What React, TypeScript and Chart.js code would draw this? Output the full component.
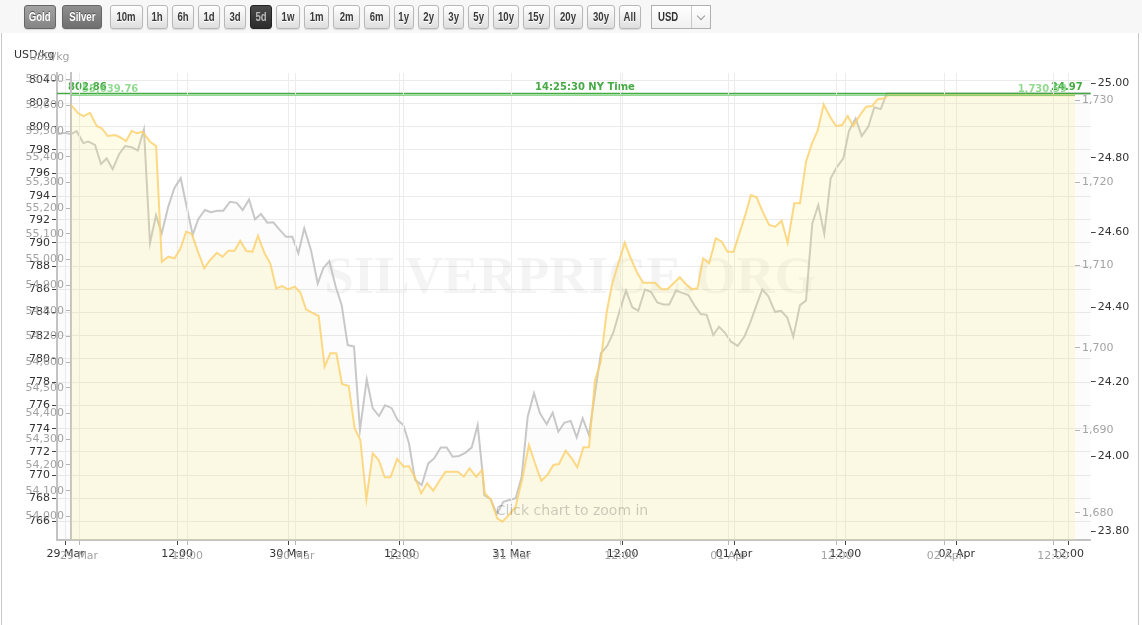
import React, { useEffect, useRef } from 'react';
import { Chart, registerables } from 'chart.js';

Chart.register(...registerables);

// ---------- data ----------
const OZ_PER_KG = 32.1507;

// gold, USD/oz, hours since 29 Mar 00:00 (NY)
const goldHours = [-0.89, -0.08, 0.48, 1.22, 1.96, 2.52, 3.19, 4.0, 4.55, 5.22, 5.85, 6.41, 7.03, 7.88, 8.55, 9.18, 9.91, 10.58, 11.21, 11.88, 12.51, 13.18, 13.88, 14.54, 15.29, 15.91, 16.57, 17.24, 17.87, 18.54, 19.24, 19.84, 20.57, 21.2, 21.87, 22.5, 23.17, 23.9, 24.53, 25.17, 25.83, 26.57, 27.23, 27.86, 28.53, 29.16, 29.9, 30.56, 31.19, 31.86, 32.56, 33.23, 33.89, 34.53, 35.27, 36.0, 36.56, 37.22, 37.93, 38.6, 39.27, 39.96, 40.63, 41.3, 42.0, 42.66, 43.29, 44.04, 44.7, 44.99, 45.63, 46.37, 46.93, 47.66, 48.4, 49.15, 49.88, 50.55, 51.25, 51.92, 52.59, 53.21, 53.95, 54.62, 55.25, 55.92, 56.54, 57.21, 57.84, 58.5, 59.14, 59.8, 60.5, 61.17, 61.83, 62.53, 63.2, 63.87, 64.58, 65.24, 65.91, 66.61, 67.27, 67.94, 68.57, 69.19, 69.86, 70.6, 71.27, 71.9, 72.57, 73.27, 73.93, 74.49, 75.12, 75.79, 76.52, 77.19, 77.9, 78.56, 79.3, 79.93, 80.6, 81.26, 81.89, 82.56, 83.26, 83.93, 84.59, 85.22, 85.85, 86.51, 87.26, 87.92, 88.55, 89.29, 89.67, 110.42];
const goldPrices = [1729.4, 1728.39, 1728.06, 1728.46, 1726.85, 1726.58, 1725.64, 1725.76, 1725.49, 1725.04, 1726.28, 1725.97, 1726.16, 1724.95, 1724.43, 1710.42, 1711.03, 1710.84, 1711.93, 1714.06, 1713.78, 1711.64, 1709.63, 1710.63, 1711.51, 1711.03, 1711.76, 1711.76, 1712.97, 1711.72, 1711.64, 1713.57, 1711.44, 1710.23, 1707.2, 1707.48, 1707.08, 1707.4, 1706.72, 1704.66, 1704.25, 1703.85, 1697.71, 1699.34, 1699.34, 1695.62, 1695.38, 1690.26, 1688.84, 1681.66, 1687.23, 1686.42, 1684.32, 1684.32, 1686.54, 1685.61, 1685.69, 1684.4, 1682.39, 1683.6, 1682.7, 1683.91, 1685.0, 1685.0, 1685.0, 1684.4, 1685.41, 1684.4, 1685.21, 1682.39, 1681.66, 1679.36, 1678.95, 1679.76, 1680.76, 1684.2, 1688.23, 1686.02, 1683.91, 1684.6, 1685.81, 1685.93, 1687.54, 1686.62, 1685.53, 1687.96, 1687.96, 1696.1, 1698.32, 1704.37, 1707.88, 1710.23, 1712.73, 1710.84, 1709.21, 1707.88, 1707.88, 1707.88, 1707.08, 1707.08, 1707.81, 1708.54, 1707.73, 1707.08, 1707.2, 1710.84, 1710.23, 1713.26, 1712.85, 1711.64, 1711.64, 1714.06, 1716.28, 1718.5, 1718.22, 1716.48, 1714.87, 1714.66, 1715.39, 1712.73, 1717.5, 1717.5, 1722.53, 1724.76, 1726.28, 1729.48, 1727.98, 1726.85, 1726.97, 1728.06, 1726.85, 1728.06, 1729.19, 1729.27, 1730.09, 1730.21, 1730.59, 1730.59];

// silver, USD/oz
const silverHours = [-0.94, -0.08, 0.57, 1.18, 1.9, 2.43, 3.16, 3.8, 4.42, 5.06, 5.77, 6.39, 7.11, 7.76, 8.43, 9.08, 9.73, 10.34, 11.05, 11.7, 12.39, 13.03, 13.68, 14.28, 15.0, 15.65, 16.33, 16.98, 17.7, 18.42, 19.07, 19.75, 20.39, 21.04, 21.72, 22.36, 23.01, 23.73, 24.41, 25.06, 25.7, 26.42, 27.15, 27.75, 28.4, 29.09, 29.73, 30.38, 31.06, 31.7, 32.43, 33.07, 33.75, 34.4, 35.12, 35.76, 36.37, 36.98, 37.63, 38.35, 39.06, 39.71, 40.4, 41.04, 41.69, 42.37, 43.09, 43.74, 44.38, 44.88, 45.09, 45.78, 46.43, 47.14, 47.79, 48.48, 49.12, 49.77, 50.45, 51.09, 51.82, 52.46, 53.07, 53.71, 54.4, 55.05, 55.69, 56.37, 57.02, 57.66, 58.34, 58.99, 59.64, 60.36, 61.04, 61.68, 62.4, 63.05, 63.73, 64.38, 65.02, 65.75, 66.42, 67.07, 67.72, 68.4, 69.05, 69.76, 70.38, 71.02, 71.67, 72.39, 73.1, 73.71, 74.36, 75.04, 75.69, 76.41, 77.06, 77.73, 78.38, 79.1, 79.75, 80.43, 81.07, 81.72, 82.41, 83.06, 83.77, 84.38, 85.1, 85.75, 86.46, 87.11, 87.8, 88.44, 110.42];
const silverPrices = [24.863, 24.867, 24.863, 24.871, 24.839, 24.843, 24.834, 24.783, 24.798, 24.769, 24.81, 24.831, 24.828, 24.819, 24.876, 24.571, 24.646, 24.597, 24.669, 24.718, 24.745, 24.669, 24.593, 24.635, 24.66, 24.654, 24.658, 24.658, 24.682, 24.679, 24.66, 24.688, 24.635, 24.649, 24.626, 24.627, 24.608, 24.588, 24.588, 24.544, 24.611, 24.553, 24.463, 24.504, 24.523, 24.454, 24.405, 24.298, 24.294, 24.071, 24.206, 24.129, 24.108, 24.137, 24.129, 24.097, 24.084, 24.035, 23.937, 23.923, 23.981, 23.995, 24.024, 24.024, 23.999, 24.001, 24.01, 24.024, 24.084, 23.963, 23.896, 23.885, 23.845, 23.878, 23.883, 23.888, 23.945, 24.106, 24.169, 24.115, 24.086, 24.117, 24.066, 24.09, 24.095, 24.051, 24.102, 24.057, 24.169, 24.276, 24.296, 24.331, 24.387, 24.444, 24.399, 24.39, 24.447, 24.441, 24.412, 24.407, 24.407, 24.444, 24.438, 24.432, 24.405, 24.381, 24.379, 24.325, 24.347, 24.331, 24.307, 24.296, 24.32, 24.356, 24.401, 24.447, 24.429, 24.387, 24.39, 24.372, 24.32, 24.405, 24.417, 24.624, 24.673, 24.596, 24.745, 24.774, 24.798, 24.872, 24.905, 24.858, 24.883, 24.935, 24.93, 24.972, 24.972];

const xTickHours = [0, 12, 24, 36, 48, 60, 72, 84, 96, 108];
const xTickLabels = ['29 Mar', '12:00', '30 Mar', '12:00', '31 Mar', '12:00', '01 Apr', '12:00', '02 Apr', '12:00'];

const silverKgTicks = [766, 768, 770, 772, 774, 776, 778, 780, 782, 784, 786, 788, 790, 792, 794, 796, 798, 800, 802, 804];
const silverOzTicks = [23.8, 24.0, 24.2, 24.4, 24.6, 24.8, 25.0];
const goldKgTicks = [54000, 54100, 54200, 54300, 54400, 54500, 54600, 54700, 54800, 54900, 55000, 55100, 55200, 55300, 55400, 55500, 55600, 55700];
const goldOzTicks = [1680, 1690, 1700, 1710, 1720, 1730];

const silverNowOz = 24.972;
const silverNowKgLabel = '802.86';
const silverNowOzLabel = '24.97';
const goldNowOz = 1730.59;
const goldNowKgLabel = '55,639.76';
const goldNowOzLabel = '1,730.59';
const nyTimeLabel = '14:25:30 NY Time';
const unitTitle = 'USD/kg';

const metalButtons = ['Gold', 'Silver'];
const rangeButtons = ['10m', '1h', '6h', '1d', '3d', '5d', '1w', '1m', '2m', '6m', '1y', '2y', '3y', '5y', '10y', '15y', '20y', '30y', 'All'];
const selectedRange = '5d';
const currency = 'USD';

// layout only: button box widths (px)
const metalButtonWidths = [32, 40];
const rangeButtonWidths = [33, 21, 22, 22, 22, 22, 24, 25, 27, 26, 20, 21, 21, 21, 26, 27, 29, 28, 22];

// ---------- chart ----------
const W = 1142;
const H = 625;

type Cfg = {
  id: string;
  hours: number[];
  prices: number[];
  lineColor: string;
  fillColor: string;
  textColor: string;
  tickColor: string;
  leftW: number;
  rightEdge: number;
  xMin: number;
  xMax: number;
  ozMin: number;
  ozMax: number;
  kgTicks: number[];
  ozTicks: number[];
  kgFmt: (v: number) => string;
  ozFmt: (v: number) => string;
  hGrid: boolean;
  xLabelPad: number;
  nowOz: number;
  nowKgLabel: string;
  nowOzLabel: string;
  nowColor: string;
  titlePos: [number, number];
  watermark: boolean;
  timeLabel: boolean;
  clickText: boolean;
};

function makeChart(canvas: HTMLCanvasElement, c: Cfg) {
  const font = { family: '"DejaVu Sans", sans-serif', size: 11 };
  const overlay = {
    id: 'overlay_' + c.id,
    beforeDatasetsDraw(chart: any) {
      if (!c.watermark) return;
      const ctx = chart.ctx;
      ctx.save();
      ctx.font = 'bold 53px "Liberation Serif", serif';
      ctx.fillStyle = 'rgba(0,0,0,0.045)';
      ctx.textAlign = 'center';
      ctx.textBaseline = 'alphabetic';
      ctx.fillText('SILVERPRICE.ORG', 570, 293);
      ctx.restore();
    },
    afterDatasetsDraw(chart: any) {
      const ctx = chart.ctx;
      const a = chart.chartArea;
      const y = chart.scales.yR.getPixelForValue(c.nowOz);
      ctx.save();
      ctx.strokeStyle = c.nowColor;
      ctx.lineWidth = 1.5;
      ctx.beginPath();
      ctx.moveTo(a.left, y);
      ctx.lineTo(a.right, y);
      ctx.stroke();
      ctx.fillStyle = c.nowColor;
      ctx.font = 'bold 10px "DejaVu Sans", sans-serif';
      ctx.textBaseline = 'alphabetic';
      ctx.textAlign = 'left';
      ctx.fillText(c.nowKgLabel, a.left + 11, y - 3);
      ctx.textAlign = 'right';
      ctx.fillText(c.nowOzLabel, a.right - 8, y - 3);
      if (c.timeLabel) {
        ctx.textAlign = 'center';
        ctx.fillText(nyTimeLabel, 585, y - 3);
      }
      ctx.restore();
    },
    afterDraw(chart: any) {
      const ctx = chart.ctx;
      ctx.save();
      ctx.font = '11px "DejaVu Sans", sans-serif';
      ctx.fillStyle = c.textColor;
      ctx.textAlign = 'left';
      ctx.textBaseline = 'alphabetic';
      ctx.fillText(unitTitle, c.titlePos[0], c.titlePos[1]);
      if (c.clickText) {
        ctx.font = '14px "DejaVu Sans", sans-serif';
        ctx.fillStyle = 'rgba(0,0,0,0.2)';
        ctx.textAlign = 'center';
        ctx.fillText('Click chart to zoom in', 572, 515);
      }
      ctx.restore();
    },
  };

  return new Chart(canvas, {
    type: 'line',
    data: {
      datasets: [
        {
          data: c.hours.map((h, i) => ({ x: h, y: c.prices[i] })),
          xAxisID: 'x',
          yAxisID: 'yR',
          borderColor: c.lineColor,
          backgroundColor: c.fillColor,
          borderWidth: 2,
          pointRadius: 0,
          tension: 0,
          fill: 'start',
        },
      ],
    },
    options: {
      animation: false,
      responsive: false,
      maintainAspectRatio: false,
      devicePixelRatio: 1,
      events: [],
      layout: { padding: { top: 73, left: 0, right: 0, bottom: 0 } },
      plugins: { legend: { display: false }, tooltip: { enabled: false } },
      scales: {
        x: {
          type: 'linear',
          position: 'bottom',
          min: c.xMin,
          max: c.xMax,
          afterBuildTicks: (s: any) => {
            s.ticks = xTickHours.map((v) => ({ value: v }));
          },
          afterFit: (s: any) => {
            s.height = H - 540;
          },
          ticks: {
            autoSkip: false,
            maxRotation: 0,
            color: c.textColor,
            font,
            padding: c.xLabelPad,
            callback: (v: any) => xTickLabels[xTickHours.indexOf(Number(v))] ?? '',
          },
          grid: { color: '#ececec', tickColor: c.tickColor, tickLength: 5, drawOnChartArea: true },
          border: { color: '#c4c4c4', width: 2 },
        },
        yL: {
          type: 'linear',
          position: 'left',
          min: c.ozMin * OZ_PER_KG,
          max: c.ozMax * OZ_PER_KG,
          afterBuildTicks: (s: any) => {
            s.ticks = c.kgTicks.map((v) => ({ value: v }));
          },
          afterFit: (s: any) => {
            s.width = c.leftW;
          },
          ticks: { color: c.textColor, font, padding: 2, callback: (v: any) => c.kgFmt(Number(v)) },
          grid: { color: '#ebebeb', drawOnChartArea: c.hGrid, tickColor: c.tickColor, tickLength: 5 },
          border: { color: '#c4c4c4', width: 2 },
        },
        yR: {
          type: 'linear',
          position: 'right',
          min: c.ozMin,
          max: c.ozMax,
          afterBuildTicks: (s: any) => {
            s.ticks = c.ozTicks.map((v) => ({ value: v }));
          },
          afterFit: (s: any) => {
            s.width = W - c.rightEdge;
          },
          ticks: { color: c.textColor, font, padding: 2, callback: (v: any) => c.ozFmt(Number(v)) },
          grid: { drawOnChartArea: false, tickColor: c.tickColor, tickLength: 5 },
          border: { display: false },
        },
      },
    } as any,
    plugins: [overlay],
  });
}

const fmtComma = (v: number) => v.toLocaleString('en-US');

const silverCfg: Cfg = {
  id: 'silver',
  hours: silverHours,
  prices: silverPrices,
  lineColor: 'rgba(190,190,190,0.85)',
  fillColor: 'rgba(0,0,0,0.012)',
  textColor: '#333333',
  tickColor: '#444444',
  leftW: 57,
  rightEdge: 1090.7,
  xMin: -0.937,
  xMax: 110.42,
  ozMin: 23.7759,
  ozMax: 25.0268,
  kgTicks: silverKgTicks,
  ozTicks: silverOzTicks,
  kgFmt: (v) => String(v),
  ozFmt: (v) => v.toFixed(2),
  hGrid: true,
  xLabelPad: 3,
  nowOz: silverNowOz,
  nowKgLabel: silverNowKgLabel,
  nowOzLabel: silverNowOzLabel,
  nowColor: 'rgba(60,165,60,0.95)',
  titlePos: [14, 58],
  watermark: true,
  timeLabel: true,
  clickText: false,
};

const goldCfg: Cfg = {
  id: 'gold',
  hours: goldHours,
  prices: goldPrices,
  lineColor: 'rgba(252,208,105,0.8)',
  fillColor: 'rgba(250,232,110,0.17)',
  textColor: '#a3a3a3',
  tickColor: '#b5b5b5',
  leftW: 71,
  rightEdge: 1075,
  xMin: -0.888,
  xMax: 110.42,
  ozMin: 1676.73,
  ozMax: 1733.27,
  kgTicks: goldKgTicks,
  ozTicks: goldOzTicks,
  kgFmt: fmtComma,
  ozFmt: fmtComma,
  hGrid: false,
  xLabelPad: 5,
  nowOz: goldNowOz,
  nowKgLabel: goldNowKgLabel,
  nowOzLabel: goldNowOzLabel,
  nowColor: 'rgba(110,205,110,0.75)',
  titlePos: [29, 60],
  watermark: false,
  timeLabel: false,
  clickText: true,
};

// ---------- toolbar ----------
const btnBase: React.CSSProperties = {
  height: 24,
  boxSizing: 'border-box',
  padding: 0,
  border: '1px solid #b8b8b8',
  borderRadius: 3,
  background: 'linear-gradient(#ffffff, #dedede)',
  color: '#3a3a3a',
  font: 'bold 12px "Liberation Sans", sans-serif',
  display: 'flex',
  alignItems: 'center',
  justifyContent: 'center',
  textShadow: '0 1px 0 #fff',
  boxShadow: '0 1px 1px rgba(0,0,0,0.12)',
  overflow: 'hidden',
  whiteSpace: 'nowrap',
};

const narrow: React.CSSProperties = { display: 'inline-block', transform: 'scaleX(0.8)' };

function Toolbar() {
  return (
    <div style={{ position: 'absolute', left: 24, top: 5, display: 'flex', alignItems: 'center' }}>
      {metalButtons.map((m, i) => (
        <div
          key={m}
          style={{
            ...btnBase,
            width: metalButtonWidths[i],
            marginLeft: i === 0 ? 0 : 6,
            background: i === 0 ? 'linear-gradient(#a3a3a3, #858585)' : 'linear-gradient(#8f8f8f, #6f6f6f)',
            border: '1px solid #666',
            color: '#fff',
            textShadow: '0 -1px 0 #555',
          }}
        >
          <span style={narrow}>{m}</span>
        </div>
      ))}
      {rangeButtons.map((r, i) => {
        const sel = r === selectedRange;
        return (
          <div
            key={r}
            style={{
              ...btnBase,
              width: rangeButtonWidths[i],
              marginLeft: i === 0 ? 8 : 4,
              ...(sel
                ? { background: 'linear-gradient(#4a4a4a, #2c2c2c)', color: '#b8b8b8', border: '1px solid #222', textShadow: 'none' }
                : {}),
            }}
          >
            <span style={narrow}>{r}</span>
          </div>
        );
      })}
      <div
        style={{
          marginLeft: 10,
          height: 24,
          width: 60,
          boxSizing: 'border-box',
          border: '1px solid #b0b0b0',
          background: 'linear-gradient(#ffffff, #f0f0f0)',
          display: 'flex',
          alignItems: 'center',
          font: 'bold 12px "Liberation Sans", sans-serif',
          color: '#333',
        }}
      >
        <div style={{ flex: 1, paddingLeft: 6 }}>
          <span style={{ ...narrow, transformOrigin: 'left center' }}>{currency}</span>
        </div>
        <div
          style={{
            width: 18,
            height: '100%',
            borderLeft: '1px solid #c8c8c8',
            display: 'flex',
            alignItems: 'center',
            justifyContent: 'center',
          }}
        >
          <div
            style={{
              width: 5,
              height: 5,
              borderRight: '1px solid #999',
              borderBottom: '1px solid #999',
              transform: 'rotate(45deg)',
              marginTop: -3,
            }}
          />
        </div>
      </div>
    </div>
  );
}

export default function App() {
  const sRef = useRef<HTMLCanvasElement>(null);
  const gRef = useRef<HTMLCanvasElement>(null);

  useEffect(() => {
    const s = makeChart(sRef.current as HTMLCanvasElement, silverCfg);
    const g = makeChart(gRef.current as HTMLCanvasElement, goldCfg);
    return () => {
      s.destroy();
      g.destroy();
    };
  }, []);

  return (
    <div style={{ position: 'fixed', left: 0, top: 0, width: W, height: H, background: '#fff', overflow: 'hidden' }}>
      <div style={{ position: 'absolute', left: 0, top: 0, width: W, height: 33, background: '#f7f7f7' }} />
      <div
        style={{
          position: 'absolute',
          left: 1,
          top: 33,
          width: 1138,
          height: H - 33,
          boxSizing: 'border-box',
          borderLeft: '1px solid #c8c8c8',
          borderRight: '1px solid #c8c8c8',
        }}
      />
      <canvas ref={sRef} width={W} height={H} style={{ position: 'absolute', left: 0, top: 0 }} />
      <canvas ref={gRef} width={W} height={H} style={{ position: 'absolute', left: 0, top: 0 }} />
      <Toolbar />
    </div>
  );
}
